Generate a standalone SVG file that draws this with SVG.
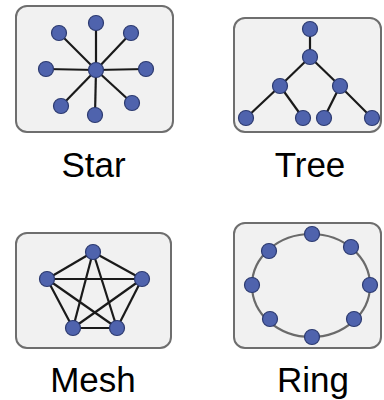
<svg xmlns="http://www.w3.org/2000/svg" width="384" height="400" viewBox="0 0 384 400">
  <style>
    .panel { fill: #f1f1f1; stroke: #6e6e6e; stroke-width: 2; }
    .link { stroke: #1a1a1a; stroke-width: 2.2; fill: none; }
    .ring { stroke: #6a6a6a; stroke-width: 2.2; fill: none; }
    .node { fill: #4f63ad; stroke: #2c3a70; stroke-width: 1.2; }
    .label { font-family: "Liberation Sans", Arial, sans-serif; font-size: 35px; fill: #000; text-anchor: middle; }
  </style>

  <!-- Star topology -->
  <g id="star">
    <rect class="panel" x="16" y="6" width="157" height="126" rx="11"/>
    <g id="star-links">
      <line class="link" x1="96" y1="70" x2="96" y2="23"/>
      <line class="link" x1="96" y1="70" x2="59" y2="33"/>
      <line class="link" x1="96" y1="70" x2="131" y2="33"/>
      <line class="link" x1="96" y1="70" x2="46" y2="69"/>
      <line class="link" x1="96" y1="70" x2="146" y2="69"/>
      <line class="link" x1="96" y1="70" x2="61" y2="106"/>
      <line class="link" x1="96" y1="70" x2="95" y2="115"/>
      <line class="link" x1="96" y1="70" x2="132" y2="103"/>
    </g>
    <circle class="node" cx="96" cy="70" r="7.5"/>
    <circle class="node" cx="96" cy="23" r="7.5"/>
    <circle class="node" cx="59" cy="33" r="7.5"/>
    <circle class="node" cx="131" cy="33" r="7.5"/>
    <circle class="node" cx="46" cy="69" r="7.5"/>
    <circle class="node" cx="146" cy="69" r="7.5"/>
    <circle class="node" cx="61" cy="106" r="7.5"/>
    <circle class="node" cx="95" cy="115" r="7.5"/>
    <circle class="node" cx="132" cy="103" r="7.5"/>
    <text class="label" x="93.5" y="176.5">Star</text>
  </g>

  <!-- Tree topology -->
  <g id="tree">
    <rect class="panel" x="234" y="18" width="147" height="114" rx="11"/>
    <g id="tree-links">
      <line class="link" x1="310" y1="29" x2="310" y2="57"/>
      <line class="link" x1="310" y1="57" x2="280" y2="86"/>
      <line class="link" x1="310" y1="57" x2="340" y2="86"/>
      <line class="link" x1="280" y1="86" x2="246" y2="118"/>
      <line class="link" x1="280" y1="86" x2="303" y2="118"/>
      <line class="link" x1="340" y1="86" x2="324" y2="118"/>
      <line class="link" x1="340" y1="86" x2="372" y2="118"/>
    </g>
    <circle class="node" cx="310" cy="29" r="7.5"/>
    <circle class="node" cx="310" cy="57" r="7.5"/>
    <circle class="node" cx="280" cy="86" r="7.5"/>
    <circle class="node" cx="340" cy="86" r="7.5"/>
    <circle class="node" cx="246" cy="118" r="7.5"/>
    <circle class="node" cx="303" cy="118" r="7.5"/>
    <circle class="node" cx="324" cy="118" r="7.5"/>
    <circle class="node" cx="372" cy="118" r="7.5"/>
    <text class="label" x="310" y="176.5">Tree</text>
  </g>

  <!-- Mesh topology -->
  <g id="mesh">
    <rect class="panel" x="16" y="233" width="155" height="115" rx="11"/>
    <g id="mesh-links">
      <line class="link" x1="93" y1="252" x2="47" y2="279"/>
      <line class="link" x1="93" y1="252" x2="142" y2="279"/>
      <line class="link" x1="93" y1="252" x2="73" y2="328"/>
      <line class="link" x1="93" y1="252" x2="117" y2="328"/>
      <line class="link" x1="47" y1="279" x2="142" y2="279"/>
      <line class="link" x1="47" y1="279" x2="73" y2="328"/>
      <line class="link" x1="47" y1="279" x2="117" y2="328"/>
      <line class="link" x1="142" y1="279" x2="73" y2="328"/>
      <line class="link" x1="142" y1="279" x2="117" y2="328"/>
      <line class="link" x1="73" y1="328" x2="117" y2="328"/>
    </g>
    <circle class="node" cx="93" cy="252" r="7.5"/>
    <circle class="node" cx="47" cy="279" r="7.5"/>
    <circle class="node" cx="142" cy="279" r="7.5"/>
    <circle class="node" cx="73" cy="328" r="7.5"/>
    <circle class="node" cx="117" cy="328" r="7.5"/>
    <text class="label" x="93" y="391.5">Mesh</text>
  </g>

  <!-- Ring topology -->
  <g id="ring">
    <rect class="panel" x="234" y="223" width="147" height="125" rx="11"/>
    <ellipse class="ring" cx="311" cy="285.5" rx="59" ry="51.5"/>
    <circle class="node" cx="312" cy="234" r="7.5"/>
    <circle class="node" cx="351" cy="247" r="7.5"/>
    <circle class="node" cx="370" cy="285" r="7.5"/>
    <circle class="node" cx="354" cy="319" r="7.5"/>
    <circle class="node" cx="312" cy="337" r="7.5"/>
    <circle class="node" cx="270" cy="319" r="7.5"/>
    <circle class="node" cx="252" cy="285" r="7.5"/>
    <circle class="node" cx="269" cy="251" r="7.5"/>
    <text class="label" x="313" y="391.5">Ring</text>
  </g>
</svg>
